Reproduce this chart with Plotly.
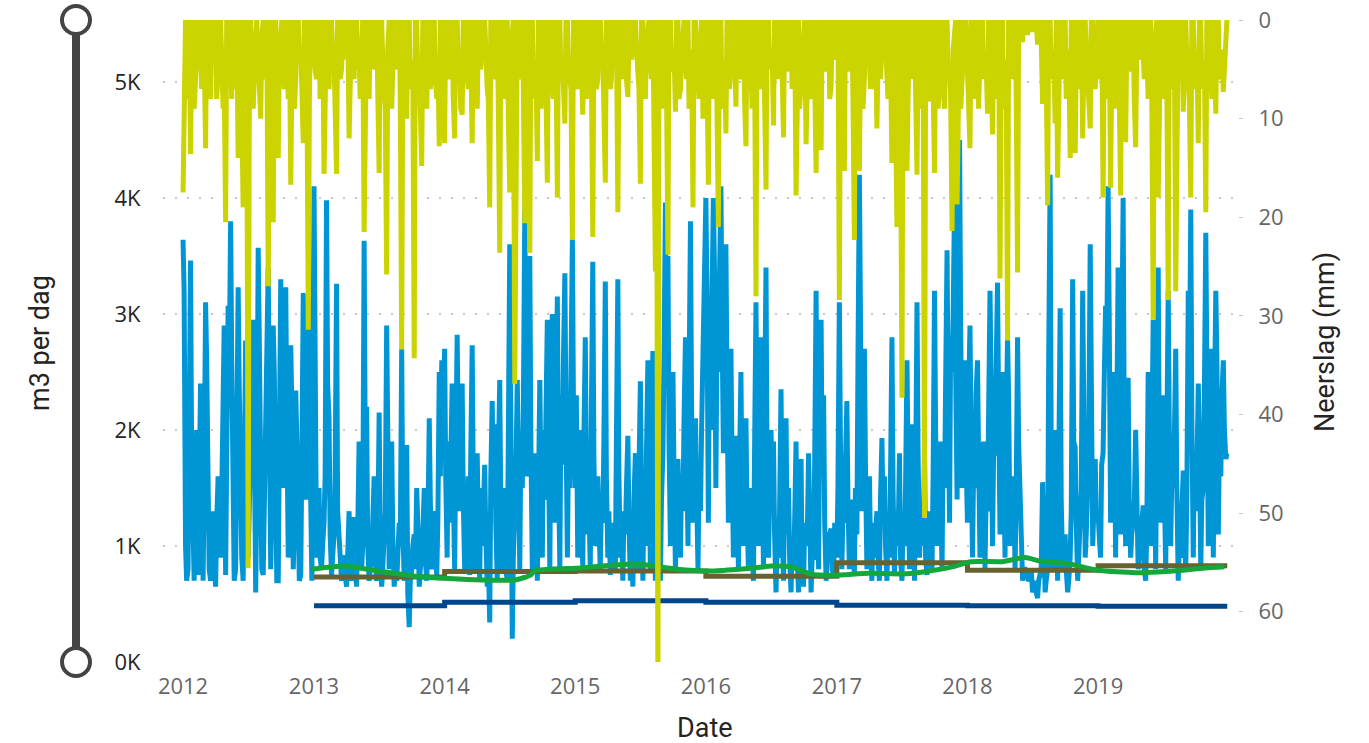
import pandas as pd
import plotly.graph_objects as go

YEARS = [2012, 2013, 2014, 2015, 2016, 2017, 2018, 2019]

# daily flow (m3 per dag) in thousands: reading at start of each week (A) and mid-week (B)
flow_a_2012 = [3.64, 1.0, 0.8, 3.46, 0.9, 1.5, 0.75, 2.4, 0.7, 3.1, 1.2, 0.7, 1.3, 0.65, 1.6, 0.9, 2.36, 0.75, 3.07, 3.8,
               1.1, 0.8, 3.23, 1.4, 0.7, 2.77, 0.9, 1.8, 2.95, 0.6, 3.57, 1.2, 0.75, 2.5, 3.4, 0.8, 2.9, 1.0, 0.7, 3.3,
               1.5, 3.23, 0.9, 2.73, 0.8, 2.34, 1.0, 0.75, 3.18, 1.4, 3.14, 0.85]
flow_b_2012 = [3.2, 0.7, 2.2, 1.8, 0.7, 2.0, 1.4, 1.9, 1.5, 2.6, 0.8, 1.1, 0.9, 1.2, 1.1, 1.4, 2.9, 1.6, 2.5, 2.6,
               0.7, 1.5, 2.4, 0.9, 1.6, 2.2, 1.3, 2.5, 2.0, 1.4, 2.8, 0.8, 1.3, 2.9, 2.2, 1.3, 2.5, 0.7, 1.9, 2.6,
               2.0, 2.1, 1.4, 2.2, 1.2, 1.9, 0.7, 1.5, 2.7, 1.8, 2.2, 0.7]
flow_a_2013 = [4.1, 0.9, 1.5, 0.8, 1.2, 3.98, 2.1, 0.75, 1.1, 3.26, 1.0, 0.7, 0.9, 0.65, 1.3, 0.7, 1.25, 0.65, 1.9, 0.8,
               3.63, 2.2, 0.7, 0.9, 1.6, 0.7, 2.15, 0.65, 1.0, 2.9, 0.8, 1.9, 0.65, 0.7, 1.2, 2.7, 0.7, 1.87, 0.3, 0.8,
               1.1, 1.5, 0.65, 0.9, 1.5, 0.7, 2.1, 0.8, 1.3, 0.75, 2.5, 2.6]
flow_b_2013 = [1.8, 1.2, 0.9, 1.0, 1.6, 2.4, 1.1, 0.9, 1.6, 1.3, 0.8, 0.9, 0.75, 0.9, 0.8, 1.0, 0.8, 1.1, 1.2, 1.0,
               1.9, 1.0, 0.8, 1.2, 0.9, 1.0, 1.0, 0.8, 1.3, 1.4, 1.0, 1.1, 0.8, 0.9, 1.0, 1.2, 0.9, 0.6, 0.7, 1.0,
               0.8, 1.2, 0.8, 1.1, 0.9, 1.1, 1.4, 0.9, 1.0, 1.2, 1.6, 1.9]
flow_a_2014 = [2.7, 0.9, 1.2, 2.4, 0.8, 2.82, 1.3, 2.4, 0.8, 1.1, 0.75, 2.73, 0.8, 1.8, 0.7, 1.0, 1.7, 0.65, 0.34, 2.25,
               2.05, 0.7, 2.43, 0.8, 1.0, 0.7, 3.6, 0.2, 1.2, 2.43, 0.8, 1.5, 3.9, 1.6, 3.5, 0.8, 1.2, 0.7, 2.43, 0.9,
               1.4, 2.95, 0.8, 3.0, 1.2, 3.15, 0.8, 1.7, 3.35, 0.9, 1.5, 3.65]
flow_b_2014 = [1.6, 1.9, 1.7, 1.5, 1.8, 1.9, 2.0, 1.4, 1.3, 1.6, 1.8, 1.5, 1.4, 1.2, 1.5, 1.3, 1.1, 0.9, 1.6, 1.4,
               1.2, 1.7, 1.3, 1.5, 0.8, 1.9, 2.1, 0.9, 1.6, 1.4, 1.9, 2.2, 2.6, 2.3, 1.9, 1.5, 1.8, 1.4, 1.6, 2.0,
               2.1, 1.8, 2.2, 2.4, 2.0, 1.7, 2.3, 2.6, 2.1, 1.8, 2.5, 2.2]
flow_a_2015 = [1.5, 0.9, 2.0, 0.8, 2.8, 1.1, 0.8, 3.45, 1.0, 1.6, 0.8, 1.2, 3.28, 0.9, 0.75, 1.2, 0.8, 3.3, 0.9, 0.7,
               1.1, 1.95, 0.7, 0.65, 1.8, 0.8, 2.42, 0.7, 1.0, 2.6, 0.8, 2.68, 0.7, 1.2, 0.7, 1.8, 3.96, 3.5, 1.0, 2.5,
               0.8, 1.75, 0.9, 1.3, 2.8, 1.0, 3.8, 1.2, 2.1, 0.8, 1.3, 2.8]
flow_b_2015 = [2.3, 1.4, 1.6, 1.9, 1.7, 1.4, 2.1, 1.8, 1.3, 1.2, 1.4, 1.9, 1.6, 1.3, 1.1, 1.0, 1.9, 1.6, 1.2, 1.3,
               1.5, 1.2, 1.0, 1.4, 1.3, 1.6, 1.5, 1.4, 1.8, 1.7, 2.0, 1.5, 1.3, 1.0, 1.4, 2.6, 2.4, 1.9, 1.7, 1.6,
               1.3, 1.4, 1.6, 2.1, 1.9, 2.4, 2.2, 1.8, 1.5, 1.6, 2.0, 3.4]
flow_a_2016 = [4.0, 1.2, 2.0, 4.0, 1.5, 2.5, 4.1, 1.8, 3.6, 1.2, 2.7, 0.9, 1.95, 0.8, 2.5, 1.0, 2.1, 0.8, 1.2, 0.7,
               3.1, 1.0, 2.8, 0.8, 3.4, 0.9, 2.0, 1.9, 0.6, 0.9, 2.35, 0.7, 2.1, 1.5, 0.6, 0.8, 1.9, 0.6, 1.75, 0.65,
               1.0, 1.8, 0.6, 0.9, 3.2, 0.8, 2.95, 2.3, 0.7, 0.9, 1.15, 0.75]
flow_b_2016 = [3.2, 2.9, 3.1, 3.4, 2.8, 3.3, 3.0, 2.6, 2.4, 2.2, 1.8, 1.6, 1.5, 1.7, 1.4, 1.6, 1.3, 1.5, 1.1, 1.8,
               2.0, 1.6, 1.9, 2.1, 1.7, 1.4, 1.6, 1.1, 1.0, 1.3, 1.2, 1.5, 1.1, 0.9, 1.0, 1.2, 0.9, 1.1, 0.8, 1.2,
               1.0, 1.1, 0.9, 1.7, 1.9, 2.2, 1.6, 1.2, 0.9, 1.1, 0.8, 1.2]
flow_a_2017 = [0.9, 3.1, 0.8, 1.2, 2.25, 0.8, 1.4, 0.75, 1.1, 4.2, 1.3, 2.7, 0.8, 1.6, 0.7, 0.9, 1.3, 0.7, 1.93, 1.6,
               0.7, 0.9, 2.8, 0.75, 1.2, 1.8, 0.7, 1.0, 2.6, 0.8, 2.05, 0.7, 3.1, 0.9, 1.3, 1.8, 0.75, 1.1, 0.8, 3.2,
               1.0, 1.9, 0.8, 1.5, 3.55, 1.2, 2.5, 4.0, 1.4, 4.5, 1.5, 2.6]
flow_b_2017 = [1.5, 1.9, 1.3, 1.7, 1.4, 1.2, 1.0, 1.5, 2.6, 3.0, 2.2, 1.7, 1.4, 1.0, 1.2, 1.1, 0.9, 1.4, 1.3, 1.0,
               1.2, 1.6, 1.5, 1.3, 1.0, 0.9, 1.2, 1.5, 1.7, 1.3, 1.6, 1.5, 1.8, 1.2, 1.0, 0.9, 1.3, 1.1, 1.6, 2.0,
               1.7, 1.4, 1.9, 2.4, 2.2, 2.8, 3.0, 2.5, 3.4, 2.9, 2.1, 1.9]
flow_a_2018 = [1.2, 2.9, 0.9, 1.5, 2.6, 0.9, 1.7, 0.8, 1.3, 3.2, 1.0, 1.8, 3.27, 1.1, 2.5, 0.9, 2.8, 1.0, 1.3, 0.8,
               2.8, 1.4, 0.7, 0.8, 0.7, 0.75, 0.6, 0.7, 0.55, 0.75, 1.55, 0.6, 0.8, 4.2, 0.8, 2.0, 0.7, 3.05, 0.8, 1.1,
               0.6, 0.9, 3.3, 1.85, 0.7, 1.2, 3.2, 0.9, 1.5, 3.6, 1.0, 1.75]
flow_b_2018 = [2.2, 2.0, 1.6, 2.3, 1.8, 1.5, 1.9, 1.4, 2.1, 2.4, 1.8, 2.5, 2.2, 1.9, 1.7, 2.0, 2.3, 1.5, 1.6, 1.4,
               1.9, 0.9, 0.8, 0.75, 0.7, 0.8, 0.65, 0.6, 0.7, 0.8, 0.9, 0.7, 2.6, 1.8, 1.2, 1.3, 1.6, 1.4, 0.9, 0.8,
               0.7, 1.3, 1.9, 1.2, 0.9, 1.5, 1.8, 1.1, 1.9, 2.0, 1.3, 1.2]
flow_a_2019 = [1.3, 0.9, 1.8, 3.07, 4.1, 1.2, 2.2, 0.9, 3.4, 1.1, 4.0, 1.0, 2.45, 0.9, 1.2, 2.0, 0.8, 1.1, 1.35, 0.7,
               2.5, 1.0, 2.95, 0.8, 3.4, 1.2, 2.3, 0.8, 3.2, 1.0, 1.5, 2.7, 0.7, 0.9, 1.65, 0.8, 3.2, 3.9, 0.9, 1.3,
               2.4, 0.8, 1.5, 3.7, 1.0, 2.7, 0.9, 3.2, 1.1, 1.6, 2.6, 1.75]
flow_b_2019 = [1.1, 1.7, 2.4, 2.6, 3.0, 2.2, 2.5, 2.0, 2.3, 2.6, 2.1, 1.8, 1.4, 1.1, 1.3, 1.0, 0.9, 1.2, 0.8, 1.1,
               1.5, 1.8, 1.9, 2.0, 1.8, 1.7, 1.5, 1.9, 2.0, 1.6, 1.9, 1.5, 1.0, 1.3, 1.1, 1.4, 2.2, 2.1, 1.8, 1.6,
               1.9, 1.4, 2.3, 2.5, 2.0, 2.4, 2.2, 2.6, 1.9, 2.3, 2.0, 1.8]

# precipitation (mm): start of week (A) and mid-week (B)
rain_a_2012 = [17.5, 0, 5, 13.6, 0, 6, 0, 4, 0, 13, 0, 8, 2, 0, 5, 0, 9, 20.5, 0, 3, 0, 7, 14, 0, 19, 0, 55.6, 0, 9, 0,
               4, 10, 0, 6, 27, 0, 20.5, 0, 14, 0, 5, 0, 8, 16.7, 0, 6, 0, 3, 12.5, 0, 31.4, 0]
rain_b_2012 = [4, 8, 0, 3, 9, 0, 5, 7, 3, 0, 6, 0, 4, 8, 0, 3, 6, 0, 5, 8, 2, 0, 6, 9, 0, 4, 10, 3, 6, 0,
               8, 2, 5, 0, 12, 6, 0, 9, 4, 0, 7, 3, 0, 6, 9, 0, 4, 7, 0, 5, 8, 3]
rain_a_2013 = [0, 6, 0, 3, 15.6, 0, 7, 0, 4, 15.6, 0, 5, 0, 2, 12, 0, 6, 0, 3, 0, 21.5, 0, 8, 0, 4, 0, 15.5, 0, 6, 25.8,
               0, 9, 0, 5, 0, 33.4, 0, 10, 0, 6, 34.3, 0, 7, 14.8, 0, 9, 0, 5, 0, 8, 12.8, 0]
rain_b_2013 = [5, 3, 8, 0, 4, 6, 0, 3, 9, 0, 6, 2, 4, 0, 7, 3, 0, 5, 8, 0, 6, 3, 0, 5, 2, 7, 0, 4, 9, 3,
               0, 6, 4, 0, 8, 5, 3, 0, 7, 4, 0, 6, 9, 0, 5, 3, 7, 0, 6, 4, 0, 8]
rain_a_2014 = [12.5, 0, 5, 0, 12, 0, 4, 9.6, 0, 6, 0, 12.5, 0, 9, 0, 3, 0, 7, 19, 0, 5, 0, 23.6, 0, 8, 0, 17.5, 0, 36.9, 0,
               6, 0, 20.6, 0, 23.6, 0, 8, 14.3, 0, 5, 0, 16.5, 0, 7, 0, 18, 0, 4, 10.5, 0, 6, 22.3]
rain_b_2014 = [0, 6, 3, 8, 0, 5, 9, 0, 4, 7, 3, 0, 6, 2, 5, 0, 4, 8, 0, 6, 3, 9, 0, 4, 6, 10, 3, 0, 8, 5,
               0, 7, 3, 9, 0, 6, 4, 0, 9, 3, 7, 0, 5, 8, 3, 0, 6, 9, 0, 5, 7, 0]
rain_a_2015 = [0, 7, 0, 9.6, 0, 5, 0, 22, 0, 6, 0, 4, 16.5, 0, 7, 0, 3, 19.5, 0, 6, 0, 7.8, 0, 3, 0, 5, 16.6, 0, 8, 0,
               4, 0, 25.5, 70, 0, 6, 0, 23.8, 0, 5, 9.3, 0, 7, 0, 4, 0, 8, 19, 0, 6, 0, 10]
rain_b_2015 = [6, 0, 4, 3, 8, 0, 5, 3, 7, 0, 3, 9, 0, 4, 6, 2, 0, 5, 3, 0, 6, 2, 4, 0, 3, 7, 0, 5, 3, 0,
               6, 8, 0, 0, 9, 4, 7, 0, 5, 3, 0, 8, 4, 0, 6, 9, 3, 0, 5, 8, 0, 6]
rain_a_2016 = [0, 16.7, 0, 6, 0, 21, 0, 5, 11.5, 0, 4, 0, 8.8, 0, 6, 0, 12.8, 0, 5, 0, 28, 0, 7, 0, 17.2, 0, 4, 10.7, 0, 3,
               0, 11.9, 0, 5, 0, 4, 17.8, 0, 6, 0, 12.6, 0, 7, 0, 15.5, 0, 13.2, 0, 5, 0, 6.7, 0]
rain_b_2016 = [5, 0, 8, 3, 6, 0, 9, 4, 0, 7, 3, 6, 0, 5, 3, 8, 0, 4, 9, 3, 0, 6, 4, 8, 0, 5, 3, 0, 6, 4,
               8, 0, 5, 3, 7, 0, 4, 9, 3, 0, 5, 8, 0, 6, 3, 7, 0, 5, 3, 8, 0, 4]
rain_a_2017 = [3, 28.4, 0, 15.3, 0, 5, 0, 22.3, 0, 15.3, 0, 6, 0, 4, 0, 7, 11, 0, 3, 0, 6, 0, 14.5, 0, 21, 0, 38.3, 0, 15.3, 0,
               6, 0, 15.7, 0, 5, 50.5, 0, 8, 0, 15.5, 0, 6, 0, 9, 0, 5, 21.4, 0, 18.7, 0, 7, 0]
rain_b_2017 = [0, 6, 9, 0, 5, 3, 8, 0, 6, 4, 9, 0, 3, 7, 5, 0, 4, 6, 0, 3, 8, 4, 0, 6, 3, 9, 0, 5, 8, 4,
               0, 7, 3, 9, 0, 4, 8, 0, 6, 3, 9, 4, 7, 0, 5, 8, 3, 0, 6, 9, 4, 0]
rain_a_2018 = [5, 13, 0, 8, 0, 5.5, 0, 3, 9.5, 0, 11.6, 0, 5, 26.2, 0, 6, 32.5, 0, 4, 0, 25.6, 0, 2, 0, 1.5, 0, 1, 0, 2.5, 0,
               8.5, 0, 18.8, 0, 4, 10.5, 16, 0, 6, 0, 4, 14, 0, 13.5, 0, 5, 12, 0, 6, 11, 0, 7]
rain_b_2018 = [8, 0, 5, 3, 9, 0, 6, 4, 0, 7, 3, 8, 0, 5, 9, 4, 0, 6, 3, 7, 0, 2, 0, 1, 0, 0, 1, 0, 0, 2,
               0, 5, 0, 6, 3, 0, 7, 4, 0, 8, 3, 0, 6, 4, 7, 0, 5, 3, 8, 0, 6, 4]
rain_a_2019 = [0, 5, 18, 0, 6, 17, 0, 4, 0, 17.8, 0, 12.4, 0, 5, 0, 12.9, 0, 3, 5, 0, 8, 0, 30.4, 0, 18, 0, 6, 0, 28.4, 0,
               4, 27.5, 0, 6, 9.3, 0, 5, 18, 0, 7, 12.5, 0, 6, 19.5, 0, 5, 0, 9.5, 0, 4, 7.3, 0]
rain_b_2019 = [6, 0, 4, 8, 0, 5, 9, 3, 6, 0, 7, 3, 5, 0, 8, 3, 4, 0, 6, 3, 0, 7, 4, 0, 5, 8, 0, 6, 3, 7,
               0, 5, 3, 0, 6, 4, 8, 0, 5, 3, 0, 7, 4, 0, 6, 8, 3, 0, 6, 3, 5, 0]

# yearly step levels (m3 per dag)
step_years = ["2013-01-01", "2014-01-01", "2015-01-01", "2016-01-01", "2017-01-01", "2018-01-01", "2019-01-01"]
step_end = "2019-12-28"
brown_levels = [733, 780, 785, 740, 855, 790, 830]
navy_levels = [485, 515, 528, 514, 490, 485, 480]

# moving average (m3 per dag)
avg_dates = ["2012-12-26", "2013-03-28", "2013-07-07", "2013-10-10", "2014-01-11", "2014-04-13", "2014-07-16",
             "2014-08-30", "2014-09-09", "2015-01-17", "2015-04-20", "2015-06-25", "2015-10-10", "2016-01-25",
             "2016-05-12", "2016-07-04", "2016-08-26", "2016-10-19", "2016-12-23", "2017-03-30", "2017-07-14",
             "2017-09-16", "2017-11-19", "2018-01-11", "2018-04-08", "2018-06-11", "2018-07-23", "2018-10-06",
             "2019-01-01", "2019-04-16", "2019-07-31", "2019-10-27", "2019-12-20"]
avg_values = [800, 827, 780, 740, 720, 707, 707, 750, 785, 810, 836, 845, 800, 785, 810, 827, 820, 760, 747, 765,
              760, 785, 820, 865, 865, 900, 870, 850, 790, 770, 785, 810, 820]

y_ticks = [0, 1000, 2000, 3000, 4000, 5000]
y_ticktext = ["0K", "1K", "2K", "3K", "4K", "5K"]
y2_ticks = [0, 10, 20, 30, 40, 50, 60]
x_ticks = ["2012-01-01", "2013-01-01", "2014-01-01", "2015-01-01", "2016-01-01", "2017-01-01", "2018-01-01", "2019-01-01"]
x_ticktext = ["2012", "2013", "2014", "2015", "2016", "2017", "2018", "2019"]

flow_a = [flow_a_2012, flow_a_2013, flow_a_2014, flow_a_2015, flow_a_2016, flow_a_2017, flow_a_2018, flow_a_2019]
flow_b = [flow_b_2012, flow_b_2013, flow_b_2014, flow_b_2015, flow_b_2016, flow_b_2017, flow_b_2018, flow_b_2019]
rain_a = [rain_a_2012, rain_a_2013, rain_a_2014, rain_a_2015, rain_a_2016, rain_a_2017, rain_a_2018, rain_a_2019]
rain_b = [rain_b_2012, rain_b_2013, rain_b_2014, rain_b_2015, rain_b_2016, rain_b_2017, rain_b_2018, rain_b_2019]


def build(lists_a, lists_b, scale):
    rows = []
    for yr, a, b in zip(YEARS, lists_a, lists_b):
        da = pd.date_range(f"{yr}-01-01", periods=len(a), freq="7D")
        db = pd.date_range(f"{yr}-01-04", periods=len(b), freq="7D")
        rows += [(d, v * scale) for d, v in zip(da, a)]
        rows += [(d, v * scale) for d, v in zip(db, b)]
    df = pd.DataFrame(rows, columns=["date", "value"]).sort_values("date")
    return df["date"], df["value"]


flow_x, flow_y = build(flow_a, flow_b, 1000)
rain_x, rain_y = build(rain_a, rain_b, 1)

step_x = step_years + [step_end]

BLUE = "#0096D6"
YELLOW = "#CBD300"
BROWN = "#686230"
NAVY = "#00468C"
GREEN = "#14A83C"

fig = go.Figure()
fig.add_trace(go.Scatter(x=flow_x, y=flow_y, mode="lines", line=dict(color=BLUE, width=5), hoverinfo="skip"))
fig.add_trace(go.Scatter(x=step_x, y=navy_levels + [navy_levels[-1]], mode="lines",
                         line=dict(color=NAVY, width=5, shape="hv"), hoverinfo="skip"))
fig.add_trace(go.Scatter(x=step_x, y=brown_levels + [brown_levels[-1]], mode="lines",
                         line=dict(color=BROWN, width=5, shape="hv"), hoverinfo="skip"))
fig.add_trace(go.Scatter(x=avg_dates, y=avg_values, mode="lines",
                         line=dict(color=GREEN, width=5, shape="spline", smoothing=0.6), hoverinfo="skip"))
fig.add_trace(go.Scatter(x=rain_x, y=rain_y, mode="lines", line=dict(color=YELLOW, width=5), yaxis="y2",
                         hoverinfo="skip"))

L, R, T, B = 163, 131, 20, 81
W, H = 1369, 743
pw, ph = W - L - R, H - T - B


def px(x):
    return (x - L) / pw


def py(y):
    return (H - B - y) / ph


font_family = "Open Sans, Noto Sans, sans-serif"
xtickfont = dict(family=font_family, size=22, color="#666666")
ytickfont = dict(family=font_family, size=22, color="#252423")
y2tickfont = dict(family=font_family, size=22, color="#666666")
titlefont = dict(family="Roboto, sans-serif", size=27, color="#252423")

fig.update_layout(
    width=W, height=H,
    margin=dict(l=L, r=R, t=T, b=B, autoexpand=False),
    paper_bgcolor="white", plot_bgcolor="white",
    showlegend=False,
    xaxis=dict(type="date", range=["2011-11-06", "2020-01-27"], tickvals=x_ticks, ticktext=x_ticktext,
               showgrid=False, zeroline=False, showline=False, ticks="outside", ticklen=5, automargin=False,
               tickcolor="rgba(0,0,0,0)", tickfont=xtickfont),
    yaxis=dict(range=[0, 5534], tickvals=y_ticks, ticktext=y_ticktext, showgrid=True, gridcolor="#C8C8C8",
               gridwidth=1.5, griddash="2px,10px", zeroline=False, showline=False, ticks="outside", ticklen=17,
               automargin=False, tickcolor="rgba(0,0,0,0)", tickfont=ytickfont),
    yaxis2=dict(range=[65.1, 0], overlaying="y", side="right", tickvals=y2_ticks, showgrid=False,
                zeroline=False, showline=False, ticks="outside", ticklen=4, tickcolor="#C8C8C8",
                automargin=False, ticklabelstandoff=11, tickfont=y2tickfont),
    annotations=[
        dict(text="m3 per dag", x=px(40), y=py(343), xref="paper", yref="paper", showarrow=False,
             textangle=-90, font=titlefont, xanchor="center", yanchor="middle"),
        dict(text="Neerslag (mm)", x=px(1325), y=py(342), xref="paper", yref="paper", showarrow=False,
             textangle=-90, font=titlefont, xanchor="center", yanchor="middle"),
        dict(text="Date", x=px(705), y=py(728), xref="paper", yref="paper", showarrow=False,
             font=titlefont, xanchor="center", yanchor="middle"),
    ],
    shapes=[
        dict(type="line", xref="paper", yref="paper", x0=px(76), x1=px(76), y0=0, y1=1,
             line=dict(color="#444444", width=8)),
        dict(type="circle", xref="paper", yref="paper", xsizemode="pixel", ysizemode="pixel",
             xanchor=px(76), yanchor=1, x0=-14, x1=14, y0=-14, y1=14,
             fillcolor="white", line=dict(color="#444444", width=4)),
        dict(type="circle", xref="paper", yref="paper", xsizemode="pixel", ysizemode="pixel",
             xanchor=px(76), yanchor=0, x0=-14, x1=14, y0=-14, y1=14,
             fillcolor="white", line=dict(color="#444444", width=4)),
    ],
)

fig.write_html("out.html", config={"displayModeBar": False},
               post_script="document.body.style.margin='0';document.body.style.overflow='hidden';")
